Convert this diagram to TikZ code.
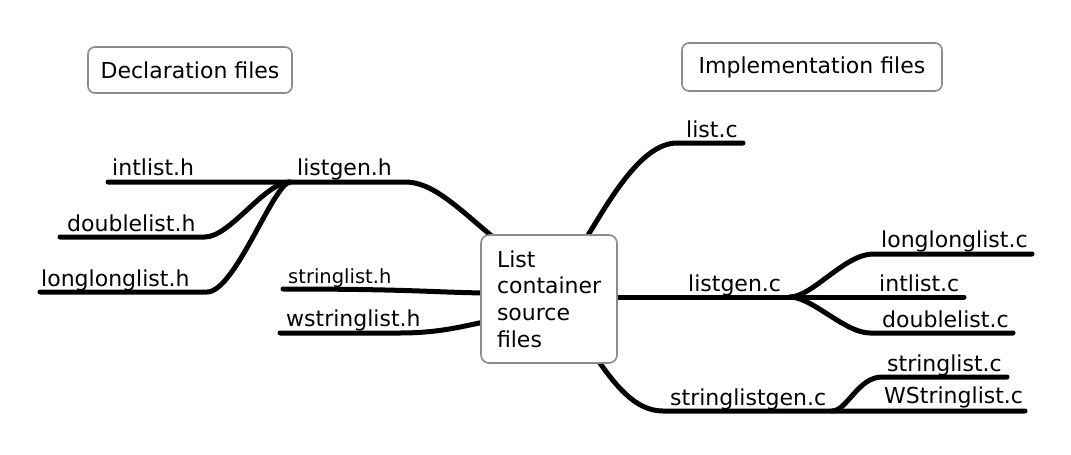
\documentclass[tikz,border=0pt]{standalone}
\usepackage{fontspec}
\setmainfont{DejaVu Sans}
\begin{document}
\begin{tikzpicture}[x=1pt,y=-1pt,
  lbl/.style={inner sep=0pt,anchor=base west,font=\fontsize{22}{26}\selectfont},
  smalllbl/.style={lbl,font=\fontsize{19.5}{23}\selectfont},
  branch/.style={line width=5pt,line cap=round,black},
  titlebox/.style={draw=black!45,line width=1.6pt,rounded corners=7pt,fill=white,
    inner xsep=0pt,inner ysep=0pt,font=\fontsize{22}{26}\selectfont},
  centralbox/.style={draw=black!45,line width=1.6pt,rounded corners=8pt,fill=white,
    text width=104pt,align=left,inner xsep=16pt,inner ysep=0pt,minimum height=128pt,
    font=\fontsize{22}{26.7}\selectfont}]
\useasboundingbox (0,0) rectangle (1071,455);

% title boxes
\node[titlebox,minimum width=204pt,minimum height=46pt] (decl) at (190,70) {Declaration files};
\node[titlebox,minimum width=260pt,minimum height=48pt] (impl) at (812,67) {Implementation files};

% coordinates - left side
\coordinate (cLG) at (494,238);
\coordinate (lghEnd) at (405,182);
\coordinate (jL) at (290,182);
\coordinate (intEnd) at (108,182);
\coordinate (dblBend) at (205,237);
\coordinate (dblEnd) at (60,237);
\coordinate (llBend) at (207,292);
\coordinate (llEnd) at (40,292);
\coordinate (cSL) at (495,293);
\coordinate (slhEnd) at (283,289);
\coordinate (cWS) at (495,320);
\coordinate (wsEnd) at (280,333);

% coordinates - right side
\coordinate (cLC) at (585,240);
\coordinate (lcBend) at (677,143);
\coordinate (lcEnd) at (743,143);
\coordinate (cLGC) at (605,297);
\coordinate (jR) at (790,297);
\coordinate (llcBend) at (873,254);
\coordinate (llcEnd) at (1032,254);
\coordinate (intcEnd) at (964,297);
\coordinate (dbcBend) at (870,333);
\coordinate (dbcEnd) at (1013,333);
\coordinate (cSG) at (595,356);
\coordinate (sgBend) at (663,411);
\coordinate (jS) at (832,411);
\coordinate (slcBend) at (882,377);
\coordinate (slcEnd) at (1007,377);
\coordinate (wscEnd) at (1025,411);

% branches - left
\draw[branch] (cLG) .. controls (455,205) and (432,182) .. (lghEnd) -- (jL) -- (intEnd);
\draw[branch] (jL) .. controls (265,182) and (230,237) .. (dblBend) -- (dblEnd);
\draw[branch] (jL) .. controls (273,184) and (235,292) .. (llBend) -- (llEnd);
\draw[branch] (cSL) .. controls (440,293) and (420,289) .. (slhEnd);
\draw[branch] (cWS) .. controls (470,324) and (445,333) .. (400,333) -- (wsEnd);

% branches - right
\draw[branch] (cLC) .. controls (607,205) and (640,143) .. (lcBend) -- (lcEnd);
\draw[branch] (cLGC) -- (jR) -- (intcEnd);
\draw[branch] (jR) .. controls (812,297) and (845,254) .. (llcBend) -- (llcEnd);
\draw[branch] (jR) .. controls (812,297) and (845,333) .. (dbcBend) -- (dbcEnd);
\draw[branch] (cSG) .. controls (615,385) and (635,411) .. (sgBend) -- (jS) -- (wscEnd);
\draw[branch] (jS) .. controls (847,411) and (858,377) .. (slcBend) -- (slcEnd);

% central box
\node[centralbox] (center) at (549,299) {List\\container\\source\\files};

% labels - left
\node[lbl] (lgh) at (297,175) {listgen.h};
\node[lbl] (inth) at (112,175) {intlist.h};
\node[lbl] (dblh) at (67,231) {doublelist.h};
\node[lbl] (llh) at (41,286) {longlonglist.h};
\node[smalllbl] (slh) at (288,283) {stringlist.h};
\node[lbl] (wsh) at (286,326) {wstringlist.h};

% labels - right
\node[lbl] (lc) at (686,137) {list.c};
\node[lbl] (lgc) at (688,291) {listgen.c};
\node[lbl] (llc) at (881,247) {longlonglist.c};
\node[lbl] (intc) at (879,291) {intlist.c};
\node[lbl] (dbc) at (882,327) {doublelist.c};
\node[lbl] (sgc) at (670,405) {stringlistgen.c};
\node[lbl] (slc) at (887,371) {stringlist.c};
\node[lbl] (wsc) at (884,403) {WStringlist.c};
\end{tikzpicture}
\end{document}
